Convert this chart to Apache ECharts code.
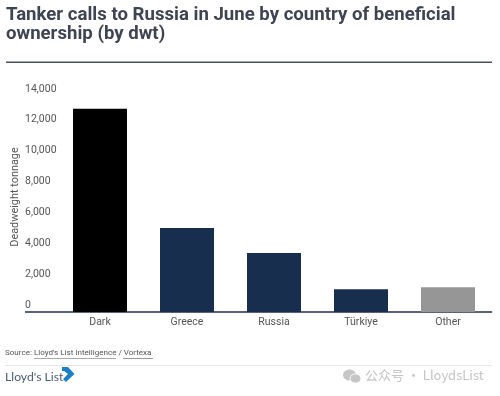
<!DOCTYPE html>
<html><head><meta charset="utf-8">
<style>html,body{margin:0;padding:0;background:#fff}#c{width:500px;height:396px}</style>
<script src="https://cdn.jsdelivr.net/npm/echarts@6/dist/echarts.min.js"></script>
</head><body><div id="c"></div>
<script>
const categories = ['Dark','Greece','Russia','Türkiye','Other'];
const values = [13180, 5440, 3820, 1480, 1600];
const barColors = ['#000000','#182e4f','#182e4f','#182e4f','#969696'];
const yTicks = [0,2000,4000,6000,8000,10000,12000,14000];
const titleText = 'Tanker calls to Russia in June by country of beneficial\nownership (by dwt)';
const chart = echarts.init(document.getElementById('c'),null,{renderer:'canvas'});
const F = 'Roboto';
chart.setOption({
  animation:false,
  grid:{left:56.5,right:8.5,top:96,bottom:84,outerBoundsMode:'none'},
  xAxis:{type:'category',data:categories,
    axisLine:{lineStyle:{color:'#5b6274',width:2}},axisTick:{show:false},
    axisLabel:{color:'#555',fontFamily:F,fontSize:10.5,margin:5}},
  yAxis:{type:'value',min:yTicks[0],max:yTicks[yTicks.length-1],interval:2000,
    name:'Deadweight tonnage',nameLocation:'middle',nameRotate:90,nameGap:36,nameMoveOverlap:false,
    nameTextStyle:{color:'#555',fontFamily:F,fontSize:10.9,padding:[0,0,0,14]},
    axisLine:{show:false},axisTick:{show:false},splitLine:{show:false},
    axisLabel:{color:'#555',fontFamily:F,fontSize:10.5,align:'left',verticalAlign:'bottom',margin:31.5,
      formatter:v=>v.toLocaleString('en-US'),lineHeight:14}},
  series:[{type:'bar',barWidth:54,
    data:values.map((v,i)=>({value:v,itemStyle:{color:barColors[i]}})),
  }],
  graphic:[
    {type:'text',left:6,top:6,style:{text:titleText,fontFamily:F,fontWeight:700,fontSize:18.6,lineHeight:19,fill:'#3f4452'}},
    {type:'rect',shape:{x:6,y:61.5,width:486,height:1.5},style:{fill:'#4a4f60'}},
    {type:'rect',shape:{x:25,y:311,width:32,height:2},style:{fill:'#5b6274'}},
    {type:'text',left:5,top:349,style:{text:"Source: Lloyd's List Intelligence / Vortexa",fontFamily:F,fontSize:8.05,fill:'#555'}},
    {type:'rect',shape:{x:34,y:358,width:82,height:.6},style:{fill:'#555'}},
    {type:'rect',shape:{x:123,y:358,width:30,height:.6},style:{fill:'#555'}},
    {type:'rect',shape:{x:5,y:365,width:487,height:1},style:{fill:'#e6e6e6'}},
    {type:'text',left:5,top:371,style:{text:"Lloyd's List",fontFamily:'Lato',fontSize:12.2,fill:'#4b5a72'}},
    {type:'polygon',shape:{points:[[62,367],[68,367],[74.5,374],[66,382],[63,379],[68,374],[64,371],[62,371]]},style:{fill:'#1a7fc4'}},
    {type:'ellipse',shape:{cx:349.5,cy:375,rx:6.5,ry:5.5},style:{fill:'#c6c6c6'}},
    {type:'ellipse',shape:{cx:355.5,cy:378.5,rx:5.5,ry:4.6},style:{fill:'#c6c6c6',stroke:'#fff',lineWidth:1}},
    {type:'text',left:365,top:369,style:{text:'公众号 · LloydsList',fontFamily:'Noto Sans CJK SC',fontSize:13,fill:'#c4c4c4'}},
  ]
});
</script></body></html>
